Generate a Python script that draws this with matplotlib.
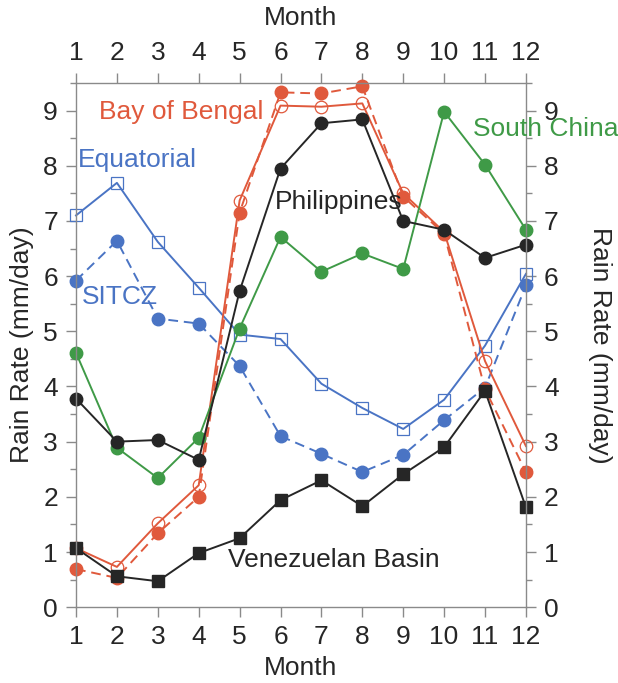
import numpy as np
import matplotlib
matplotlib.use("Agg")
import matplotlib.pyplot as plt
from matplotlib.ticker import MultipleLocator

plt.rcParams['font.family'] = ['Liberation Sans', 'DejaVu Sans']

months = np.arange(1, 13)

# rain rate (mm/day)
equatorial = [7.10, 7.69, 6.62, 5.79, 4.94, 4.86, 4.05, 3.61, 3.23, 3.76, 4.74, 6.04]
sitcz = [5.92, 6.64, 5.23, 5.14, 4.37, 3.10, 2.78, 2.45, 2.76, 3.39, 3.98, 5.83]
bengal_solid = [1.07, 0.73, 1.52, 2.21, 7.37, 9.09, 9.07, 9.13, 7.50, 6.80, 4.46, 2.92]
bengal_dash = [0.69, 0.53, 1.34, 2.00, 7.15, 9.33, 9.31, 9.44, 7.44, 6.77, 3.95, 2.45]
philippines = [3.78, 3.00, 3.03, 2.67, 5.73, 7.95, 8.77, 8.84, 7.00, 6.84, 6.33, 6.57]
south_china = [4.61, 2.89, 2.34, 3.07, 5.05, 6.71, 6.08, 6.41, 6.13, 8.98, 8.02, 6.84]
venezuelan = [1.07, 0.56, 0.47, 0.98, 1.25, 1.94, 2.30, 1.83, 2.41, 2.90, 3.92, 1.81]

red = '#e0593c'
blue = '#4a74c4'
green = '#3f9a47'
black = '#262626'
axcol = '#8a8a8a'

fig = plt.figure(figsize=(6.18, 6.83), dpi=100)
ax = fig.add_axes([0.123, 0.111, 0.728, 0.7675])

kw = dict(lw=1.4, ms=9, clip_on=False)
ax.plot(months, equatorial, '-', color=blue, marker='s', mfc='none', mec=blue, mew=0.9, **kw)
ax.plot(months, sitcz, '--', color=blue, marker='o', dashes=(5, 3), **kw)
ax.plot(months, bengal_solid, '-', color=red, marker='o', mfc='none', mec=red, mew=0.9, **kw)
ax.plot(months, bengal_dash, '--', color=red, marker='o', dashes=(5, 3), **kw)
ax.plot(months, south_china, '-', color=green, marker='o', **kw)
ax.plot(months, philippines, '-', color=black, marker='o', **kw)
ax.plot(months, venezuelan, '-', color=black, marker='s', **kw)

fs = 19
ax.text(1.55, 8.97, 'Bay of Bengal', color=red, fontsize=fs, va='center')
ax.text(1.05, 8.11, 'Equatorial', color=blue, fontsize=fs, va='center')
ax.text(1.15, 5.63, 'SITCZ', color=blue, fontsize=fs, va='center')
ax.text(5.87, 7.35, 'Philippines', color=black, fontsize=fs, va='center')
ax.text(10.7, 8.66, 'South China', color=green, fontsize=fs, va='center', clip_on=False)
ax.text(4.72, 0.85, 'Venezuelan Basin', color=black, fontsize=fs, va='center')

ax.set_xlim(1, 12)
ax.set_ylim(0, 9.5)
ax.set_xticks(months)
ax.yaxis.set_major_locator(MultipleLocator(1))
ax.yaxis.set_minor_locator(MultipleLocator(0.5))

for s in ax.spines.values():
    s.set_color(axcol)
    s.set_linewidth(1.0)
ax.tick_params(which='both', direction='out', color=axcol, labelcolor=black,
               top=True, right=True, labeltop=True, labelright=True, labelsize=fs)
ax.tick_params(which='major', length=7, width=1.0, pad=6)
ax.tick_params(which='minor', length=4, width=1.0)

# axis titles on all four sides
fig.text(0.5 * (76 + 526) / 618, 1 - 668 / 683, 'Month', fontsize=fs, color=black,
         ha='center', va='center')
fig.text(0.5 * (76 + 526) / 618, 1 - 18 / 683, 'Month', fontsize=fs, color=black,
         ha='center', va='center')
fig.text(22 / 618, 1 - 345 / 683, 'Rain Rate (mm/day)', fontsize=fs, color=black,
         ha='center', va='center', rotation=90)
fig.text(600 / 618, 1 - 345 / 683, 'Rain Rate (mm/day)', fontsize=fs, color=black,
         ha='center', va='center', rotation=-90)

fig.savefig('out.png', dpi=100, facecolor='white')
